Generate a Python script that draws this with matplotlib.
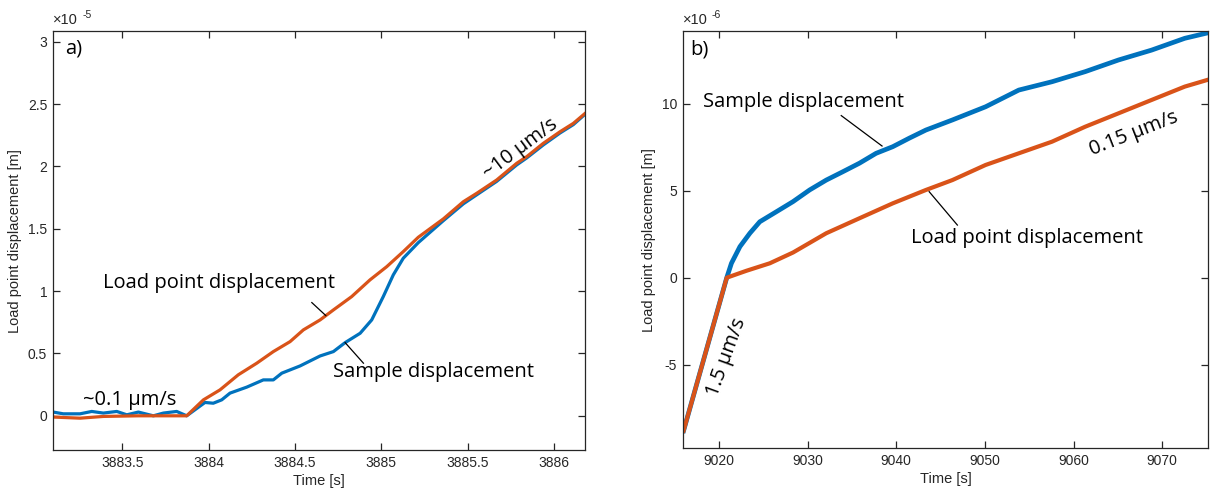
import matplotlib
import numpy as np

matplotlib.use("Agg")

import matplotlib.pyplot as plt
from matplotlib.ticker import FixedLocator, FuncFormatter

BLUE = "#0072BD"
ORANGE = "#D95319"
SPINE = "#262626"
TICK_FONT = ["Liberation Sans", "DejaVu Sans"]
NOTE_FONT = ["Open Sans", "DejaVu Sans"]

# panel a: time [s], displacement [x1e-5 m]
a_sample_t = [3883.099, 3883.157, 3883.254, 3883.322, 3883.389, 3883.467, 3883.525, 3883.592,
              3883.679, 3883.737, 3883.814, 3883.872, 3883.978, 3884.026, 3884.075, 3884.123,
              3884.220, 3884.316, 3884.374, 3884.423, 3884.529, 3884.645, 3884.722, 3884.790,
              3884.877, 3884.944, 3885.011, 3885.069, 3885.127, 3885.214, 3885.359, 3885.475,
              3885.552, 3885.668, 3885.784, 3885.842, 3885.938, 3886.035, 3886.112, 3886.180]
a_sample_d = [0.030, 0.016, 0.016, 0.035, 0.022, 0.035, 0.008, 0.030,
              0.000, 0.022, 0.035, 0.000, 0.107, 0.101, 0.128, 0.182,
              0.230, 0.288, 0.288, 0.342, 0.400, 0.480, 0.515, 0.587,
              0.662, 0.769, 0.956, 1.130, 1.264, 1.389, 1.565, 1.700,
              1.772, 1.880, 2.012, 2.068, 2.172, 2.268, 2.335, 2.418]
a_load_t = [3883.099, 3883.254, 3883.389, 3883.592, 3883.872, 3883.969, 3884.065, 3884.171,
            3884.278, 3884.374, 3884.471, 3884.548, 3884.645, 3884.722, 3884.828, 3884.934,
            3885.031, 3885.127, 3885.214, 3885.359, 3885.475, 3885.552, 3885.668, 3885.784,
            3885.842, 3885.938, 3886.035, 3886.112, 3886.180]
a_load_d = [-0.010, -0.019, -0.005, 0.000, 0.000, 0.128, 0.208, 0.329,
            0.422, 0.515, 0.595, 0.689, 0.769, 0.849, 0.956, 1.090,
            1.196, 1.317, 1.432, 1.579, 1.717, 1.784, 1.891, 2.025,
            2.078, 2.185, 2.278, 2.345, 2.425]

# panel b: time [s], displacement [x1e-6 m]
b_sample_t = [9016.0, 9020.87, 9021.4, 9022.36, 9023.48, 9024.6, 9026.48, 9028.35, 9030.22,
              9032.1, 9033.97, 9035.84, 9037.72, 9039.6, 9041.46, 9043.34, 9046.33, 9050.08,
              9053.82, 9057.57, 9061.31, 9065.06, 9068.8, 9072.55, 9075.2]
b_sample_d = [-8.81, 0.0, 0.83, 1.79, 2.56, 3.22, 3.80, 4.38, 5.05,
              5.62, 6.10, 6.59, 7.16, 7.54, 8.03, 8.50, 9.08, 9.84,
              10.80, 11.28, 11.86, 12.53, 13.10, 13.78, 14.10]
b_load_t = [9016.0, 9020.87, 9023.1, 9025.73, 9028.35, 9032.1, 9035.84, 9039.6, 9043.34,
            9046.33, 9050.08, 9053.82, 9057.57, 9061.31, 9065.06, 9068.8, 9072.55, 9075.2]
b_load_d = [-8.81, 0.0, 0.40, 0.83, 1.45, 2.56, 3.42, 4.28, 5.05,
            5.62, 6.49, 7.16, 7.83, 8.69, 9.46, 10.23, 11.00, 11.40]


def style_axes(ax, xlim, ylim, xticks, yticks, scale_label):
    ax.set_xlim(*xlim)
    ax.set_ylim(*ylim)
    ax.xaxis.set_major_locator(FixedLocator(xticks))
    ax.yaxis.set_major_locator(FixedLocator(yticks))
    ax.xaxis.set_major_formatter(FuncFormatter(lambda v, _: f"{v:g}"))
    ax.yaxis.set_major_formatter(FuncFormatter(lambda v, _: f"{v:g}"))
    ax.tick_params(direction="in", length=5, width=0.9, color=SPINE, top=True, right=True,
                   labelsize=10, labelcolor=SPINE, pad=4)
    for label in ax.get_xticklabels() + ax.get_yticklabels():
        label.set_family(TICK_FONT)
    for spine in ax.spines.values():
        spine.set_color(SPINE)
        spine.set_linewidth(0.9)
    ax.set_xlabel("Time [s]", family=TICK_FONT, fontsize=10.5, color=SPINE, labelpad=3)
    ax.set_ylabel("Load point displacement [m]", family=TICK_FONT, fontsize=10.5, color=SPINE, labelpad=4)
    ax.text(0.0, 1.01, "×10", transform=ax.transAxes, family=TICK_FONT, fontsize=10.5,
            color=SPINE, ha="left", va="bottom")
    ax.text(0.055, 1.026, scale_label, transform=ax.transAxes, family=TICK_FONT, fontsize=7.5,
            color=SPINE, ha="left", va="bottom")


def note(ax, x, y, text, **kw):
    ax.text(x, y, text, family=NOTE_FONT, fontsize=14.5, color="black", **kw)


fig = plt.figure(figsize=(12.1, 4.92), dpi=100)
fig.patch.set_facecolor("white")
ax_a = fig.add_axes([0.0436, 0.0844, 0.4399, 0.8526])
ax_b = fig.add_axes([0.5642, 0.0888, 0.4344, 0.8482])

ax_a.plot(a_sample_t, a_sample_d, color=BLUE, linewidth=2.3, solid_joinstyle="round")
ax_a.plot(a_load_t, a_load_d, color=ORANGE, linewidth=2.3, solid_joinstyle="round")
style_axes(ax_a, (3883.096, 3886.18), (-0.278, 3.086),
           [3883.5, 3884, 3884.5, 3885, 3885.5, 3886], [0, 0.5, 1, 1.5, 2, 2.5, 3], "-5")
note(ax_a, 3883.167, 2.949, "a)", ha="left", va="center")
note(ax_a, 3883.387, 1.066, "Load point displacement", ha="left", va="center")
note(ax_a, 3884.722, 0.355, "Sample displacement", ha="left", va="center")
note(ax_a, 3883.273, 0.128, "~0.1 µm/s", ha="left", va="center")
note(ax_a, 3885.805, 2.145, "~10 µm/s", ha="center", va="center", rotation=36.7)
ax_a.plot([3884.597, 3884.678], [0.908, 0.804], color="black", linewidth=0.9)
ax_a.plot([3884.79, 3884.896], [0.587, 0.422], color="black", linewidth=0.9)

ax_b.plot(b_sample_t, b_sample_d, color=BLUE, linewidth=3.4, solid_joinstyle="round")
ax_b.plot(b_load_t, b_load_d, color=ORANGE, linewidth=3.0, solid_joinstyle="round")
style_axes(ax_b, (9015.9, 9075.2), (-9.82, 14.2),
           [9020, 9030, 9040, 9050, 9060, 9070], [-5, 0, 5, 10], "-6")
note(ax_b, 9016.74, 13.11, "b)", ha="left", va="center")
note(ax_b, 9018.2, 10.13, "Sample displacement", ha="left", va="center")
note(ax_b, 9041.69, 2.29, "Load point displacement", ha="left", va="center")
note(ax_b, 9066.82, 8.31, "0.15 µm/s", ha="center", va="center", rotation=21.4)
note(ax_b, 9020.9, -4.55, "1.5 µm/s", ha="center", va="center", rotation=70)
ax_b.plot([9033.79, 9038.39], [9.33, 7.58], color="black", linewidth=0.9)
ax_b.plot([9043.71, 9046.89], [4.95, 3.03], color="black", linewidth=0.9)

fig.savefig("out.png", dpi=100)
plt.close(fig)
